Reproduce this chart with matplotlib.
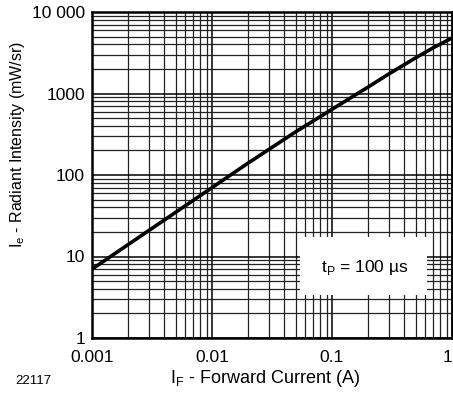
import numpy as np
import matplotlib
matplotlib.use("Agg")
import matplotlib.pyplot as plt
import matplotlib.ticker as ticker
from matplotlib.patches import Rectangle

plt.rcParams["font.family"] = ["Liberation Sans", "DejaVu Sans"]

# forward current (A) vs radiant intensity (mW/sr)
current = [0.001, 0.002, 0.005, 0.01, 0.02, 0.05, 0.1, 0.2, 0.3, 0.5, 0.7, 1.0]
intensity = [7, 14, 35, 70, 140, 340, 640, 1200, 1750, 2750, 3650, 4800]

x_ticks = [0.001, 0.01, 0.1, 1]
x_labels = ["0.001", "0.01", "0.1", "1"]
y_ticks = [1, 10, 100, 1000, 10000]
y_labels = ["1", "10", "100", "1000", "10 000"]

fig = plt.figure(figsize=(4.53, 3.96), dpi=100)
ax = fig.add_axes([92 / 453, 1 - 338 / 396, 360 / 453, 326 / 396])

ax.set_xscale("log")
ax.set_yscale("log")
ax.set_xlim(0.001, 1)
ax.set_ylim(1, 10000)

ax.xaxis.set_minor_locator(ticker.LogLocator(base=10, subs=np.arange(2, 10)))
ax.yaxis.set_minor_locator(ticker.LogLocator(base=10, subs=np.arange(2, 10)))
ax.grid(which="major", color="black", linewidth=1.1)
ax.grid(which="minor", color="#222222", linewidth=0.9)
ax.set_axisbelow(True)

ax.plot(current, intensity, color="black", linewidth=2.6, zorder=3)

ax.set_xticks(x_ticks)
ax.set_xticklabels(x_labels)
ax.set_yticks(y_ticks)
ax.set_yticklabels(y_labels)
ax.xaxis.set_minor_formatter(ticker.NullFormatter())
ax.yaxis.set_minor_formatter(ticker.NullFormatter())
ax.tick_params(which="both", length=0, labelsize=12.5)
ax.tick_params(axis="x", pad=9)
ax.tick_params(axis="y", pad=5)
ax.get_xticklabels()[-1].set_horizontalalignment("right")

for sp in ax.spines.values():
    sp.set_linewidth(1.8)

# white label box over the grid
ax.add_patch(Rectangle((0.578, 0.132), 0.353, 0.178, transform=ax.transAxes,
                       facecolor="white", edgecolor="none", zorder=4))
ax.text(0.758, 0.215, "t$_\\mathregular{P}$ = 100 µs", fontsize=12.5,
        ha="center", va="center", zorder=5, transform=ax.transAxes)

ax.set_xlabel("I$_\\mathregular{F}$ - Forward Current (A)", fontsize=13)
ax.xaxis.set_label_coords(0.481, -0.092)
ax.set_ylabel("I$_\\mathregular{e}$ - Radiant Intensity (mW/sr)", fontsize=11.5)
ax.yaxis.set_label_coords(-0.18, 0.595)

fig.text(15 / 453, 1 - 381 / 396, "22117", fontsize=9.5, va="center", ha="left")

fig.savefig("out.png", dpi=100, facecolor="white")
